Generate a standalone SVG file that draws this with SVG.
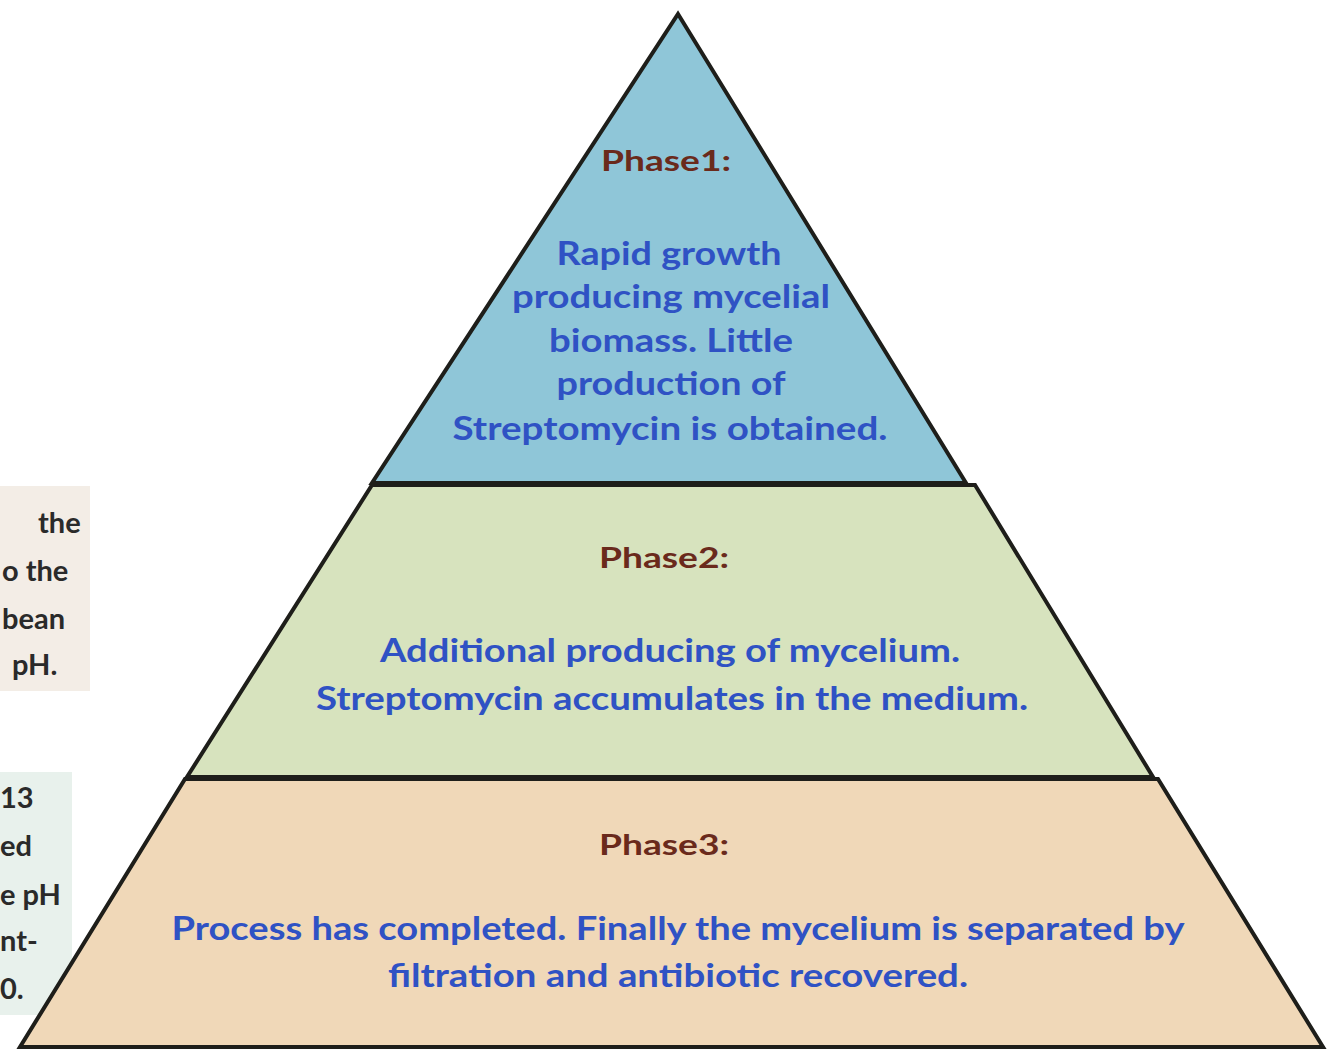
<svg xmlns="http://www.w3.org/2000/svg" width="1331" height="1052" viewBox="0 0 1331 1052">
<style>
.band{stroke:#1e1e1a;stroke-width:4;stroke-linejoin:miter}
.head{font-family:Lato,"Open Sans",sans-serif;font-weight:700;font-size:29px;fill:#6a2a1c;text-anchor:middle}
.body{font-family:Lato,"Open Sans",sans-serif;font-weight:700;font-size:32px;fill:#2f52c4;text-anchor:middle}
.side{font-family:Lato,"Open Sans",sans-serif;font-weight:700;font-size:29px;fill:#2a2a2a}
</style>
<rect x="0" y="0" width="1331" height="1052" fill="#ffffff"/>
<g id="side-notes">
<rect x="0" y="486" width="90" height="205" fill="#f3ede6"/>
<rect x="0" y="772" width="72" height="243" fill="#e8f1ec"/>
<text class="side" x="38" y="533">the</text>
<text class="side" x="2" y="581">o the</text>
<text class="side" x="2" y="629">bean</text>
<text class="side" x="12" y="675">pH.</text>
<text class="side" x="0" y="808">13</text>
<text class="side" x="0" y="856">ed</text>
<text class="side" x="0" y="905">e pH</text>
<text class="side" x="0" y="951">nt-</text>
<text class="side" x="0" y="999">0.</text>
</g>
<g id="phase3">
<polygon class="band" points="185,779 1158,779 1323,1047 20,1047" fill="#f0d8b8"/>
<text class="head" x="664" y="855" textLength="130" lengthAdjust="spacingAndGlyphs">Phase3:</text>
<text class="body" x="678" y="940" textLength="1013" lengthAdjust="spacingAndGlyphs">Process has completed. Finally the mycelium is separated by</text>
<text class="body" x="678" y="987" textLength="580" lengthAdjust="spacingAndGlyphs">filtration and antibiotic recovered.</text>
</g>
<g id="phase2">
<polygon class="band" points="372,485 975,485 1153,777 187,777" fill="#d7e3be"/>
<text class="head" x="664" y="568" textLength="130" lengthAdjust="spacingAndGlyphs">Phase2:</text>
<text class="body" x="670" y="662" textLength="580" lengthAdjust="spacingAndGlyphs">Additional producing of mycelium.</text>
<text class="body" x="672" y="710" textLength="712" lengthAdjust="spacingAndGlyphs">Streptomycin accumulates in the medium.</text>
</g>
<g id="phase1">
<polygon class="band" points="678,14 966,483 372,483" fill="#8fc6d8"/>
<text class="head" x="666" y="171" textLength="130" lengthAdjust="spacingAndGlyphs">Phase1:</text>
<text class="body" x="669" y="265" textLength="225" lengthAdjust="spacingAndGlyphs">Rapid growth</text>
<text class="body" x="671" y="308" textLength="318" lengthAdjust="spacingAndGlyphs">producing mycelial</text>
<text class="body" x="671" y="352" textLength="244" lengthAdjust="spacingAndGlyphs">biomass. Little</text>
<text class="body" x="671" y="395" textLength="229" lengthAdjust="spacingAndGlyphs">production of</text>
<text class="body" x="670" y="440" textLength="435" lengthAdjust="spacingAndGlyphs">Streptomycin is obtained.</text>
</g>
<g id="connectors"></g>
</svg>
